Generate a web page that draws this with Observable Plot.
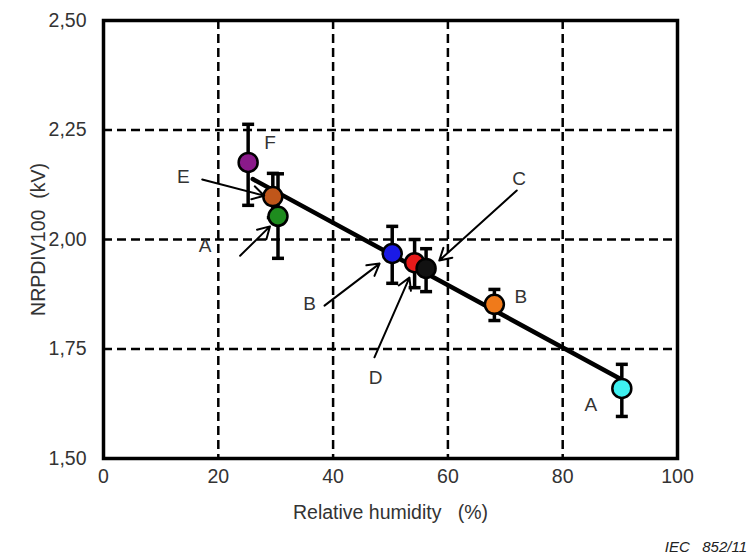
<!DOCTYPE html>
<html>
<head>
<meta charset="utf-8">
<script src="https://cdn.jsdelivr.net/npm/d3@7"></script>
<script src="https://cdn.jsdelivr.net/npm/@observablehq/plot@0.6"></script>
<style>
  body { margin: 0; background: #fff; font-family: "Liberation Sans", Arial, sans-serif; }
  #caption { width: 753px; text-align: right; font-style: italic; font-size: 15px; color: #222;
             line-height: 16px; margin-top: 9px; box-sizing: border-box; padding-right: 6px; }
</style>
</head>
<body>
<div id="chart"></div>
<div id="caption">IEC&nbsp;&nbsp; 852/11</div>
<script>
// Data points
const labels = ["F", "E", "A", "B", "D", "C", "B", "A"];
const rh     = [25.2, 29.5, 30.4, 50.3, 54.2, 56.2, 68.1, 90.3];
const kv     = [2.176, 2.098, 2.053, 1.968, 1.947, 1.934, 1.852, 1.660];
const errLow = [2.078, 2.050, 1.957, 1.900, 1.890, 1.881, 1.815, 1.596];
const errHigh= [2.263, 2.151, 2.150, 2.030, 2.000, 1.979, 1.886, 1.715];
const colors = ["#8a1a8a", "#c0561a", "#1e8c1e", "#1a1ae6", "#e61a1a", "#111111", "#f07a1a", "#3ef0f0"];

// Label positions (data units)
const labelX = [29.0, 13.9, 17.7, 35.9, 47.4, 72.4, 72.7, 84.9];
const labelY = [2.221, 2.144, 1.986, 1.852, 1.683, 2.139, 1.870, 1.623];

// Arrows (data units): E, A(green), B(blue), D, C
const arrowX1 = [17.2, 23.8, 38.5, 47.2, 72.0];
const arrowY1 = [2.137, 1.963, 1.849, 1.731, 2.112];
const arrowX2 = [28.0, 29.0, 48.1, 53.3, 58.5];
const arrowY2 = [2.100, 2.030, 1.945, 1.913, 1.952];

// Fitted line
const fitX = [26, 90];
const fitY = [2.138, 1.682];

// Ticks
const xTicks = [0, 20, 40, 60, 80, 100];
const yTicks = [1.50, 1.75, 2.00, 2.25, 2.50];
const xGrid = [20, 40, 60, 80];
const yGrid = [1.75, 2.00, 2.25];

const points = labels.map((l, i) => ({label: l, x: rh[i], y: kv[i], lo: errLow[i], hi: errHigh[i], color: colors[i], lx: labelX[i], ly: labelY[i]}));
const arrows = arrowX1.map((d, i) => ({x1: d, y1: arrowY1[i], x2: arrowX2[i], y2: arrowY2[i]}));
const fit = fitX.map((d, i) => ({x: d, y: fitY[i]}));

const cap = {
  draw(context, size) {
    const r = Math.sqrt(size / Math.PI);
    context.moveTo(-r, 0);
    context.lineTo(r, 0);
  }
};

const plot = Plot.plot({
  width: 753,
  height: 530,
  marginLeft: 103,
  marginRight: 76,
  marginTop: 20,
  marginBottom: 72,
  style: { fontFamily: "'Liberation Sans', Arial, sans-serif", color: "#333", background: "#fff" },
  x: { domain: [0, 100] },
  y: { domain: [1.5, 2.5] },
  marks: [
    Plot.ruleX(xGrid, { stroke: "black", strokeWidth: 2.5, strokeDasharray: "9,5" }),
    Plot.ruleY(yGrid, { stroke: "black", strokeWidth: 2.5, strokeDasharray: "9,5" }),
    Plot.axisX({ ticks: xTicks, tickSize: 0, tickPadding: 11, fontSize: 19.5, tickFormat: d => String(d),
                 label: "Relative humidity\u00a0\u00a0\u00a0(%)", labelAnchor: "center", labelOffset: 60, labelArrow: "none" }),
    Plot.axisY({ ticks: yTicks, tickSize: 0, tickPadding: 17, fontSize: 19.5,
                 tickFormat: d => d.toFixed(2).replace(".", ","),
                 label: "NRPDIV100\u00a0\u00a0(kV)", labelAnchor: "center", labelOffset: 72, labelArrow: "none" }),
    Plot.line(fit, { x: "x", y: "y", stroke: "black", strokeWidth: 4.5 }),
    Plot.ruleX(points, { x: "x", y1: "lo", y2: "hi", stroke: "black", strokeWidth: 3.5 }),
    Plot.dot(points, { x: "x", y: "lo", symbol: cap, r: 6, stroke: "black", strokeWidth: 3.5, fill: "none" }),
    Plot.dot(points, { x: "x", y: "hi", symbol: cap, r: 6, stroke: "black", strokeWidth: 3.5, fill: "none" }),
    Plot.dot(points, { x: "x", y: "y", r: 9.5, fill: d => d.color, stroke: "black", strokeWidth: 2.5 }),
    Plot.arrow(arrows, { x1: "x1", y1: "y1", x2: "x2", y2: "y2", stroke: "black", strokeWidth: 2, headLength: 10 }),
    Plot.text(points, { x: "lx", y: "ly", text: "label", fontSize: 19, fill: "#333" }),
    Plot.frame({ stroke: "black", strokeWidth: 3.5 })
  ]
});
document.getElementById("chart").appendChild(plot);
</script>
</body>
</html>
